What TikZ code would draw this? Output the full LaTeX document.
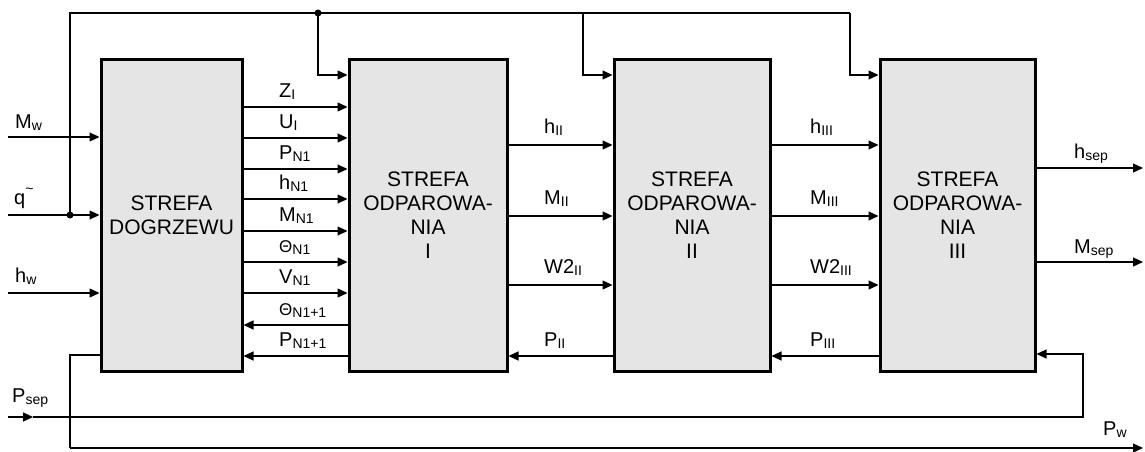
\documentclass[tikz,border=0pt]{standalone}
\usepackage{fontspec}
\setmainfont{Liberation Sans}
\usetikzlibrary{arrows.meta}
\definecolor{boxgray}{HTML}{E5E5E5}
\newcommand\lb[2]{#1\raisebox{-0.2ex}{\fontsize{14}{14}\selectfont #2}}
\newcommand\thet{{\fontsize{17}{17}\selectfont\char"0398}}
\tikzset{
  blk/.style={draw, line width=3pt, fill=boxgray, align=center, inner sep=0pt,
    font=\fontsize{21}{24}\selectfont, minimum height=311pt},
  sig/.style={line width=1.2pt, -{Triangle[length=10pt,width=9pt]}},
  wire/.style={line width=1.2pt},
  lab/.style={font=\fontsize{20}{22}\selectfont, inner sep=0pt, anchor=base west},
  jdot/.style={circle, fill=black, inner sep=0pt, minimum size=7pt}
}
\begin{document}
\begin{tikzpicture}[x=1pt,y=-1pt]
\useasboundingbox (0,0) rectangle (1145,452);
% blocks
\node[blk, minimum width=141pt] (b1) at (171.5,215.5) {STREFA\\DOGRZEWU};
\node[blk, minimum width=158pt] (b2) at (428,215.5) {STREFA\\ODPAROWA-\\NIA\\I};
\node[blk, minimum width=156pt] (b3) at (692,215.5) {STREFA\\ODPAROWA-\\NIA\\II};
\node[blk, minimum width=155pt] (b4) at (957.5,215.5) {STREFA\\ODPAROWA-\\NIA\\III};
% junctions
\node[jdot] (j1) at (318,13) {};
\node[jdot] (j2) at (70,215) {};
\coordinate (tl) at (70,13);
\coordinate (tr3) at (583,13);
\coordinate (tr4) at (850,13);
% left inputs
\coordinate (mwin) at (8,137);
\coordinate (qin) at (8,215);
\coordinate (hwin) at (8,293);
\draw[sig] (mwin) -- (b1.west |- mwin);
\draw[sig] (qin) -- (b1.west |- qin);
\draw[sig] (hwin) -- (b1.west |- hwin);
\node[lab] (lmw) at (15,128) {\lb{M}{w}};
\node[lab] (lq) at (14,204) {q\raisebox{1.0ex}{\fontsize{14}{14}\selectfont\textasciitilde}};
\node[lab] (lhw) at (15,282) {\lb{h}{w}};
% top feedback
\draw[wire] (j2.center) -- (tl) -- (tr4);
\draw[sig] (j1.center) -- (318,75) -- (b2.west |- 0,75);
\draw[sig] (tr3) -- (583,75) -- (b3.west |- 0,75);
\draw[sig] (tr4) -- (850,75) -- (b4.west |- 0,75);
% b1 -> b2
\foreach \y/\t in {107/{\lb{Z}{I}}, 138/{\lb{U}{I}}, 169/{\lb{P}{N1}}, 199/{\lb{h}{N1}},
                   231/{\lb{M}{N1}}, 262/{\lb{\thet}{N1}}, 293/{\lb{V}{N1}}}{
  \draw[sig] (b1.east |- 0,\y) -- (b2.west |- 0,\y);
  \node[lab] at (279,\y-10) {\t};
}
\foreach \y/\t in {325/{\lb{\thet}{N1+1}}, 356/{\lb{P}{N1+1}}}{
  \draw[sig] (b2.west |- 0,\y) -- (b1.east |- 0,\y);
  \node[lab] at (279,\y-10) {\t};
}
% b2 -> b3, b3 -> b4
\foreach \y/\t in {145/h, 216/M, 285/W2}{
  \draw[sig] (b2.east |- 0,\y) -- (b3.west |- 0,\y);
  \node[lab] at (544,\y-12) {\lb{\t}{II}};
  \draw[sig] (b3.east |- 0,\y) -- (b4.west |- 0,\y);
  \node[lab] at (810,\y-12) {\lb{\t}{III}};
}
\draw[sig] (b3.west |- 0,356) -- (b2.east |- 0,356);
\node[lab] (lp2) at (544,346) {\lb{P}{II}};
\draw[sig] (b4.west |- 0,356) -- (b3.east |- 0,356);
\node[lab] (lp3) at (810,346) {\lb{P}{III}};
% outputs
\coordinate (hsep) at (1143,168);
\coordinate (msep) at (1143,262);
\draw[sig] (b4.east |- hsep) -- (hsep);
\draw[sig] (b4.east |- msep) -- (msep);
\node[lab] (lhsep) at (1074,158) {\lb{h}{sep}};
\node[lab] (lmsep) at (1074,253) {\lb{M}{sep}};
% bottom: P_w
\coordinate (pwl) at (70,355);
\coordinate (pwc) at (70,448);
\coordinate (pwout) at (1143,448);
\draw[wire] (b1.west |- pwl) -- (pwl) -- (pwc);
\draw[sig] (pwc) -- (pwout);
\node[lab] (lpw) at (1103,435) {\lb{P}{w}};
% bottom: P_sep
\coordinate (psin) at (8,417);
\coordinate (psa) at (33,417);
\coordinate (psr) at (1083,417);
\coordinate (psu) at (1083,354);
\draw[sig] (psin) -- (psa);
\draw[sig] (psa) -- (psr) -- (psu) -- (b4.east |- psu);
\node[lab] (lpsep) at (12,402) {\lb{P}{sep}};
\end{tikzpicture}
\end{document}
